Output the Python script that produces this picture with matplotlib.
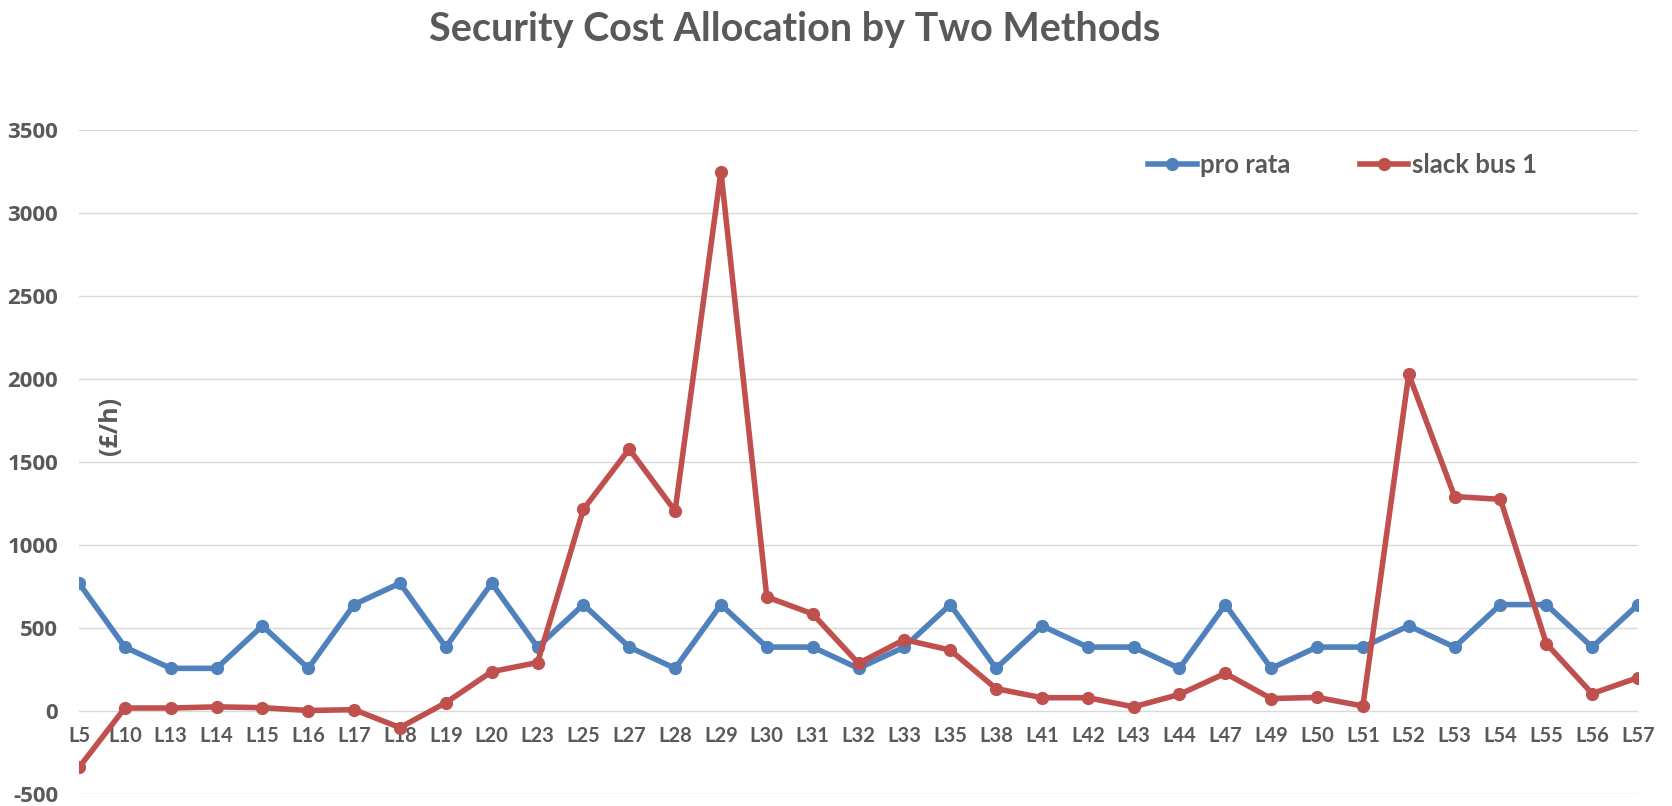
import matplotlib
matplotlib.use("Agg")
import matplotlib.pyplot as plt

categories = ["L5", "L10", "L13", "L14", "L15", "L16", "L17", "L18", "L19", "L20",
              "L23", "L25", "L27", "L28", "L29", "L30", "L31", "L32", "L33", "L35",
              "L38", "L41", "L42", "L43", "L44", "L47", "L49", "L50", "L51", "L52",
              "L53", "L54", "L55", "L56", "L57"]

pro_rata = [770, 385, 257, 257, 513, 257, 641, 770, 385, 770,
            385, 641, 385, 257, 641, 385, 385, 257, 385, 641,
            257, 513, 385, 385, 257, 641, 257, 385, 385, 513,
            385, 641, 641, 385, 641]

slack_bus_1 = [-340, 18, 18, 25, 20, 3, 8, -100, 50, 237,
               292, 1215, 1578, 1205, 3250, 687, 585, 287, 430, 367,
               135, 80, 80, 25, 100, 227, 75, 82, 30, 2028,
               1292, 1275, 406, 105, 201]

yticks = [-500, 0, 500, 1000, 1500, 2000, 2500, 3000, 3500]

W, H = 1672, 806
fig = plt.figure(figsize=(W / 100, H / 100), dpi=100)
fig.patch.set_facecolor("white")

left, right, top, bottom = 79, 1638, 130, 794
ax = fig.add_axes([left / W, 1 - bottom / H, (right - left) / W, (bottom - top) / H])

x = list(range(len(categories)))
blue = "#4F81BD"
red = "#C0504D"
txt = "#595959"

ax.plot(x, pro_rata, color=blue, lw=4, marker="o", ms=8.5, label="pro rata",
        solid_joinstyle="round", zorder=3)
ax.plot(x, slack_bus_1, color=red, lw=4, marker="o", ms=8.5, label="slack bus 1",
        solid_joinstyle="round", zorder=4)

ax.set_xlim(0, len(categories) - 1)
ax.set_ylim(-500, 3500)
ax.set_yticks(yticks)
ax.set_yticklabels([str(v) for v in yticks])
ax.set_xticks(x)
ax.set_xticklabels(categories)

ax.grid(axis="y", color="#D9D9D9", lw=1.0)
ax.grid(axis="x", visible=False)
ax.set_axisbelow(True)
for s in ["top", "right", "left"]:
    ax.spines[s].set_visible(False)
ax.spines["bottom"].set_position(("data", 0))
ax.spines["bottom"].set_visible(False)

ax.tick_params(axis="y", length=0, pad=15, labelcolor=txt)
ax.tick_params(axis="x", length=0, pad=11, labelcolor=txt)
for lbl in ax.get_yticklabels():
    lbl.set_fontfamily("Open Sans")
    lbl.set_fontweight("bold")
    lbl.set_fontsize(16)
for lbl in ax.get_xticklabels():
    lbl.set_fontfamily("Lato")
    lbl.set_fontweight("bold")
    lbl.set_fontsize(14.5)

fig.text(110 / W, 1 - 426 / H, "(£/h)", rotation=90, ha="center", va="center",
         fontfamily="Open Sans", fontweight="bold", fontsize=18, color=txt)

title = fig.text(795 / W, 1 - 29 / H, "Security Cost Allocation by Two Methods",
                 ha="center", va="center", fontfamily="Lato", fontweight="bold",
                 fontsize=20, color=txt)
fig.canvas.draw()
r = fig.canvas.get_renderer()
wpx = title.get_window_extent(r).width
title.set_fontsize(20 * 731 / wpx)

leg = ax.legend(loc="center left", bbox_to_anchor=(1148 / W, 1 - 165 / H),
                bbox_transform=fig.transFigure, frameon=False, ncol=2,
                handlelength=1.9, handletextpad=0.12, columnspacing=2.7,
                borderpad=0, borderaxespad=0,
                prop={"family": "Lato", "weight": "bold", "size": 18.5})
for t in leg.get_texts():
    t.set_color(txt)

fig.savefig("out.png", dpi=100, facecolor="white")
